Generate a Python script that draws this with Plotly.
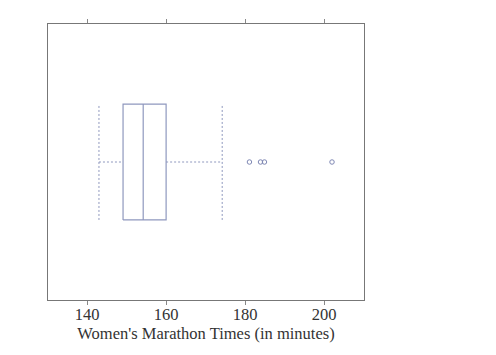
import plotly.graph_objects as go

# Summary statistics (minutes)
lower_whisker = 143.0
q1 = 149.1
median = 154.2
q3 = 160.0
upper_whisker = 174.2
outliers = [181.1, 183.9, 184.9, 202.0]

tick_vals = [140, 160, 180, 200]
tick_text = ["140", "160", "180", "200"]
x_title = "Women's Marathon Times (in minutes)"

center = 1.0
half = 0.21
lo, hi = center - half, center + half
col = "#8F98BE"

fig = go.Figure()
# box rectangle
fig.add_trace(go.Scatter(x=[q1, q3, q3, q1, q1], y=[lo, lo, hi, hi, lo], mode="lines",
                         line=dict(color=col, width=1.2), hoverinfo="skip"))
# median
fig.add_trace(go.Scatter(x=[median, median], y=[lo, hi], mode="lines",
                         line=dict(color=col, width=1.2), hoverinfo="skip"))
# whiskers (dashed)
for xs, ys in [([lower_whisker, q1], [center, center]),
               ([q3, upper_whisker], [center, center]),
               ([lower_whisker, lower_whisker], [lo, hi]),
               ([upper_whisker, upper_whisker], [lo, hi])]:
    fig.add_trace(go.Scatter(x=xs, y=ys, mode="lines",
                             line=dict(color=col, width=1, dash="2px,2px"), hoverinfo="skip"))
# outliers
fig.add_trace(go.Scatter(x=outliers, y=[center] * len(outliers), mode="markers",
                         marker=dict(symbol="circle-open", size=4.5, color="#7F88B4",
                                     line=dict(width=1, color="#7F88B4"))))

fig.update_layout(
    width=488, height=347,
    margin=dict(l=40, r=132, t=16, b=55, autoexpand=False),
    paper_bgcolor="white", plot_bgcolor="white",
    showlegend=False,
    font=dict(family="Liberation Serif", size=16.5, color="#333"),
)
fig.update_xaxes(range=[130.1, 210.1], tickvals=tick_vals, ticktext=tick_text,
                 ticks="outside", ticklen=4, tickcolor="#888", showgrid=False, zeroline=False,
                 showline=True, linecolor="#777", linewidth=1, mirror="ticks",
                 automargin=False, ticklabelstandoff=-5,
                 title=dict(text=x_title, standoff=0, font=dict(size=16.5)),
                 tickfont=dict(size=16.5))
fig.update_yaxes(range=[0.5, 1.5], showticklabels=False, showgrid=False, zeroline=False,
                 showline=True, linecolor="#777", linewidth=1, mirror=True, ticks="")

fig.write_html("out.html")
